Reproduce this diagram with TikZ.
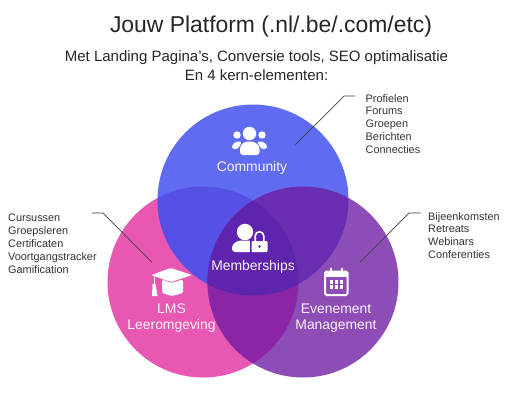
\documentclass[tikz,border=0pt]{standalone}
\usepackage{fontspec}
\setmainfont{Liberation Sans}
\usepackage{xcolor}
\definecolor{comblue}{HTML}{5F6CF1}
\definecolor{lmspink}{HTML}{E858B3}
\definecolor{evtpurple}{HTML}{8E4DB6}
\definecolor{comlms}{HTML}{5650E6}
\definecolor{comevt}{HTML}{6A2DB1}
\definecolor{lmsevt}{HTML}{8A26A6}
\definecolor{coreviolet}{HTML}{5E24AD}
\definecolor{inkgray}{HTML}{333333}
\usetikzlibrary{calc}

\begin{document}
\begin{tikzpicture}[
  x=1pt,y=-1pt,
  line cap=round,
  title/.style={font=\fontsize{22.9}{26}\selectfont,text=black!85},
  subtitle/.style={font=\fontsize{15}{19}\selectfont,text=black!85,align=center},
  lst/.style={font=\fontsize{10.9}{12.8}\selectfont,text=inkgray,align=left,anchor=north west,inner sep=0pt},
  lbl/.style={font=\fontsize{13.9}{16}\selectfont,text=white!92!lmspink,align=center,inner sep=0pt},
  leader/.style={draw=black!75,line width=0.7pt},
  icon/.style={fill=white,draw=none}
]
\useasboundingbox (0,0) rectangle (506,400);
\fill[white] (0,0) rectangle (506,400);
\def\R{95.5}

%========== three circles with their overlaps ==========
\coordinate (comC) at (253,200);
\coordinate (lmsC) at (203,282);
\coordinate (evtC) at (303,282);
\fill[lmspink] (lmsC) circle (\R);
\fill[evtpurple] (evtC) circle (\R);
\fill[comblue] (comC) circle (\R);
\begin{scope}
  \clip (lmsC) circle (\R);
  \fill[comlms] (comC) circle (\R);
  \fill[lmsevt] (evtC) circle (\R);
\end{scope}
\begin{scope}
  \clip (evtC) circle (\R);
  \fill[comevt] (comC) circle (\R);
\end{scope}
\begin{scope}
  \clip (lmsC) circle (\R);
  \clip (evtC) circle (\R);
  \fill[coreviolet] (comC) circle (\R);
\end{scope}

%========== headings ==========
\node[title] (titleNode) at (271,27) {Jouw Platform (.nl/.be/.com/etc)};
\node[subtitle] (subNode) at (256.5,65.5) {Met Landing Pagina’s, Conversie tools, SEO optimalisatie\\En 4 kern-elementen:};

%========== lists and leaders ==========
\node[lst] (comList) at (365.5,94) {Profielen\\Forums\\Groepen\\Berichten\\Connecties};
\node[lst] (lmsList) at (8,214) {Cursussen\\Groepsleren\\Certificaten\\Voortgangstracker\\Gamification};
\node[lst] (evtList) at (428,212) {Bijeenkomsten\\Retreats\\Webinars\\Conferenties};
\coordinate (comTip) at (295.5,144.5);
\coordinate (comBend) at (344,96);
\coordinate (comEnd) at (355,96);
\coordinate (lmsTip) at (152,262);
\coordinate (lmsBend) at (103,213);
\coordinate (lmsEnd) at (92,213);
\coordinate (evtTip) at (360,262);
\coordinate (evtBend) at (409,213);
\coordinate (evtEnd) at (420.5,213);
\draw[leader] (comTip) -- (comBend) -- (comEnd);
\draw[leader] (lmsTip) -- (lmsBend) -- (lmsEnd);
\draw[leader] (evtTip) -- (evtBend) -- (evtEnd);

%========== circle labels ==========
\node[lbl] (comLbl) at (252,168) {Community};
\node[lbl] (coreLbl) at (253,267) {Memberships};
\node[lbl] (lmsLbl) at (171.5,318.5) {LMS\\Leeromgeving};
\node[lbl] (evtLbl) at (336,318.5) {Evenement\\Management};

%========== icons ==========
% people
\fill[icon] (249.5,133.5) circle (6.7);
\fill[icon] (237,135) circle (3.7);
\fill[icon] (262,135) circle (3.7);
\fill[icon,rounded corners=2.5pt] (232,149) -- (232,145) -- (236,141.5) -- (242,141.5) -- (238,149) -- cycle;
\fill[icon,rounded corners=2.5pt] (267,149) -- (267,145) -- (263,141.5) -- (257,141.5) -- (261,149) -- cycle;
\fill[icon,rounded corners=3pt] (240,155) -- (240,146) -- (245,141.5) -- (254,141.5) -- (259.5,146) -- (259.5,155) -- cycle;
% person with lock
\fill[icon] (245,232) circle (8.2);
\fill[icon,rounded corners=3pt] (232,252) -- (232,245) -- (238,240.5) -- (252,240.5) -- (252,252) -- cycle;
\fill[coreviolet] (249.5,239) rectangle (251.5,253);
\fill[icon,rounded corners=1pt] (251.5,241) rectangle (267.5,252);
\draw[white,line width=1.6pt] (255.2,241.5) -- (255.2,236) arc[start angle=180,end angle=360,radius=4.3] -- (263.8,241.5);
\fill[coreviolet] (259.5,246.5) circle (1.3);
% graduation cap
\fill[icon,rounded corners=1pt] (151,275) -- (171,268) -- (192,275) -- (171,282) -- cycle;
\fill[icon,rounded corners=1.5pt] (162,279.5) -- (171,283) -- (183,279.5) -- (183,293) -- (172,296) -- (162,293) -- cycle;
\fill[icon] (153.5,277) rectangle (154.5,284);
\fill[icon] (152.5,284) -- (155.5,284) -- (157.5,296) -- (152,296) -- cycle;
% calendar
\draw[white,line width=2pt,rounded corners=1.5pt] (325,271.5) rectangle (347.5,295);
\fill[icon] (325,271.5) rectangle (347.5,277);
\draw[white,line width=2pt] (331,268.5) -- (331,273);
\draw[white,line width=2pt] (341.5,268.5) -- (341.5,273);
\foreach \cx in {329.5,334.5,339.5}{
  \foreach \cy in {279.5,285.3}{
    \fill[icon] (\cx,\cy) rectangle ++(3.8,4);
  }
}
\end{tikzpicture}
\end{document}
